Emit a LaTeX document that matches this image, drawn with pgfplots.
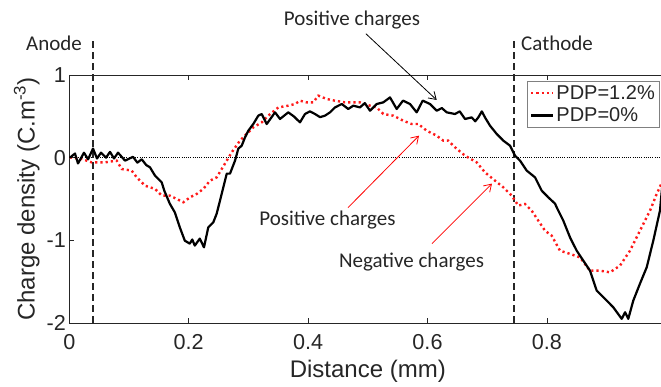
\documentclass[border=0pt]{standalone}
\usepackage{pgfplots}
\pgfplotsset{compat=1.18}
\usepackage{fontspec}
\setmainfont{Liberation Sans}
\newfontfamily\calibri{Carlito}
\usetikzlibrary{arrows.meta}
\definecolor{txt}{HTML}{262626}
\definecolor{pdpred}{HTML}{FF1A1A}

\begin{document}
\begin{tikzpicture}
\begin{axis}[
  scale only axis,
  width=597pt, height=248pt,
  xmin=0, xmax=1, ymin=-2, ymax=1,
  xtick={0,0.2,0.4,0.6,0.8,1}, xticklabels={0,0.2,0.4,0.6,0.8,1},
  ytick={-2,-1,0,1}, yticklabels={-2,-1,0,1},
  tick align=inside, major tick length=5pt,
  axis line style={txt, line width=0.8pt},
  tick style={txt, line width=0.8pt},
  ticklabel style={font=\fontsize{21.6}{24}\selectfont, text=txt},
  xticklabel style={yshift=-8pt},
  /pgf/number format/assume math mode=true,
  xlabel={Distance (mm)},
  ylabel={Charge density (C.m\textsuperscript{-3})},
  label style={font=\fontsize{24}{28}\selectfont, text=txt},
  xlabel style={yshift=-3pt},
  clip=false,
  legend style={at={(rel axis cs:0.766,0.976)}, anchor=north west,
    draw=gray, line width=0.8pt, fill=white,
    font=\fontsize{20}{22}\selectfont, text=txt,
    inner xsep=3pt, inner ysep=2pt, row sep=3pt},
  legend cell align=left,
  legend image code/.code={\draw[#1] (0pt,0pt) -- (22pt,0pt);},
]
\coordinate (ll) at (rel axis cs:0,0);

% zero line and electrode positions
\draw[black, line width=0.9pt, dash pattern=on 1pt off 1.2pt] (axis cs:0,0) -- (axis cs:1,0);
\draw[txt, line width=1.5pt, dash pattern=on 7pt off 4pt] (axis cs:0.040,-2) -- (axis cs:0.040,1.415);
\draw[txt, line width=1.5pt, dash pattern=on 7pt off 4pt] (axis cs:0.745,-2) -- (axis cs:0.745,1.415);

\addplot[pdpred, line width=2.4pt, dash pattern=on 2.2pt off 3pt] coordinates {
(0.001,0.004) (0.0208,-0.016) (0.0375,-0.057) (0.0598,-0.057) (0.0794,-0.036)
(0.0878,-0.137) (0.1045,-0.157) (0.1129,-0.238) (0.1268,-0.339) (0.1436,-0.378)
(0.1548,-0.459) (0.1683,-0.459) (0.1799,-0.499) (0.1910,-0.540) (0.2022,-0.480)
(0.2134,-0.439) (0.2245,-0.378) (0.2357,-0.278) (0.2469,-0.238) (0.2553,-0.137)
(0.2637,-0.036) (0.2720,0.064) (0.2859,0.206) (0.2971,0.287) (0.3082,0.366)
(0.3223,0.427) (0.3333,0.508) (0.3501,0.608) (0.3668,0.629) (0.3781,0.649)
(0.3864,0.689) (0.3977,0.669) (0.4087,0.669) (0.4171,0.750) (0.4312,0.710)
(0.4451,0.689) (0.4618,0.669) (0.4757,0.669) (0.4869,0.669) (0.5037,0.629)
(0.5149,0.608) (0.5260,0.528) (0.5427,0.508) (0.5595,0.447) (0.5735,0.407)
(0.5846,0.407) (0.5987,0.326) (0.6154,0.266) (0.6265,0.206) (0.6348,0.206)
(0.6461,0.125) (0.6628,0.024) (0.6824,-0.057) (0.6963,-0.178) (0.7131,-0.278)
(0.7270,-0.359) (0.7410,-0.459) (0.7521,-0.580) (0.7633,-0.560) (0.7745,-0.641)
(0.7856,-0.762) (0.7968,-0.883) (0.8080,-0.943) (0.8219,-1.125) (0.8387,-1.164)
(0.8554,-1.206) (0.8722,-1.367) (0.8889,-1.367) (0.9057,-1.387) (0.9224,-1.306)
(0.9392,-1.125) (0.9559,-0.883) (0.9727,-0.641) (0.9839,-0.439) (0.9940,-0.278)
};
\addlegendentry{PDP=1.2\%}

\addplot[black, line width=2.2pt, line join=round] coordinates {
(0.001,0.00) (0.0095,0.05) (0.0146,-0.07) (0.0246,0.06) (0.0315,-0.02)
(0.0397,0.11) (0.0464,-0.01) (0.0531,0.06) (0.0615,0.00) (0.0682,0.07)
(0.0749,-0.01) (0.0816,0.06) (0.0878,0.01) (0.0933,-0.036) (0.1067,0.01)
(0.1140,-0.060) (0.1213,-0.020) (0.1290,-0.090) (0.1352,-0.117) (0.1436,-0.218)
(0.1548,-0.299) (0.1591,-0.399)
(0.1683,-0.556) (0.1767,-0.661) (0.1851,-0.843) (0.1935,-1.004) (0.2018,-1.040)
(0.2060,-0.990) (0.2102,-1.064) (0.2186,-0.979) (0.2256,-1.085) (0.2328,-0.843)
(0.2412,-0.782)
(0.2469,-0.677) (0.2524,-0.520) (0.2580,-0.359) (0.2637,-0.193) (0.2692,-0.193)
(0.2776,-0.036) (0.2831,0.109) (0.2888,0.145) (0.2943,0.245) (0.2998,0.326)
(0.3082,0.407) (0.3166,0.508) (0.3223,0.528) (0.3307,0.407) (0.3446,0.548)
(0.3529,0.468) (0.3668,0.548) (0.3760,0.500) (0.3864,0.427) (0.3948,0.528)
(0.4030,0.560) (0.4116,0.528) (0.4200,0.490) (0.4283,0.508) (0.4370,0.550)
(0.4451,0.608) (0.4563,0.649) (0.4673,0.589) (0.4757,0.629) (0.4869,0.608)
(0.4950,0.660) (0.5037,0.568) (0.5149,0.649) (0.5260,0.669) (0.5372,0.729)
(0.5484,0.589) (0.5590,0.690) (0.5707,0.649) (0.5819,0.548) (0.5920,0.690)
(0.6042,0.649) (0.6154,0.568) (0.6240,0.600) (0.6322,0.548) (0.6461,0.528)
(0.6540,0.560) (0.6628,0.468) (0.6740,0.487) (0.6800,0.440) (0.6851,0.487)
(0.6910,0.560) (0.6963,0.487) (0.7047,0.387)
(0.7159,0.287) (0.7270,0.206) (0.7382,0.145) (0.7466,0.024) (0.7550,-0.036)
(0.7662,-0.157) (0.7801,-0.238) (0.7913,-0.399) (0.8023,-0.480) (0.8136,-0.556)
(0.8164,-0.601) (0.8275,-0.762) (0.8387,-0.964) (0.8499,-1.125) (0.8610,-1.246)
(0.8722,-1.367) (0.8834,-1.608) (0.9002,-1.729) (0.9112,-1.810) (0.9253,-1.950)
(0.9310,-1.870) (0.9363,-1.950) (0.9447,-1.729) (0.9559,-1.524) (0.9672,-1.326)
(0.9782,-1.004) (0.9894,-0.641) (0.9940,-0.280)
};
\addlegendentry{PDP=0\%}

% annotations
\node[font=\calibri\fontsize{21}{24}\selectfont, text=txt] at (axis cs:0.4735,1.669) {Positive charges};
\draw[-{Straight Barb[length=7pt,width=9pt]}, black, line width=0.8pt] (axis cs:0.4968,1.499) -- (axis cs:0.6154,0.698);
\node[font=\calibri\fontsize{21}{24}\selectfont, text=txt] at (axis cs:0.4325,-0.750) {Positive charges};
\draw[-{Straight Barb[length=7pt,width=9pt]}, red, line width=0.8pt] (axis cs:0.4668,-0.605) -- (axis cs:0.5858,0.266);
\node[font=\calibri\fontsize{21}{24}\selectfont, text=txt] at (axis cs:0.5732,-1.258) {Negative charges};
\draw[-{Straight Barb[length=7pt,width=9pt]}, red, line width=0.8pt] (axis cs:0.6075,-1.040) -- (axis cs:0.7080,-0.314);
\node[font=\calibri\fontsize{21}{24}\selectfont, text=txt, anchor=east, inner sep=0pt] at (axis cs:0.0215,1.378) {Anode};
\node[font=\calibri\fontsize{21}{24}\selectfont, text=txt, anchor=west, inner sep=0pt] at (axis cs:0.7566,1.378) {Cathode};
\end{axis}
\pgfresetboundingbox
\path[use as bounding box] ([shift={(-69.3pt,-64pt)}]ll) rectangle ([shift={(591.7pt,323pt)}]ll);
\end{tikzpicture}
\end{document}
